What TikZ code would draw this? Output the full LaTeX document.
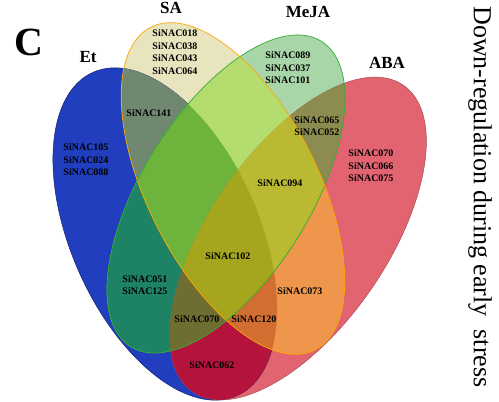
\documentclass[tikz,border=0pt]{standalone}
\usepackage{fontspec}
\setmainfont{Liberation Serif}
\definecolor{etcol}{RGB}{32,62,190}
\definecolor{sacol}{RGB}{232,228,190}
\definecolor{mejacol}{RGB}{168,214,168}
\definecolor{abacol}{RGB}{226,100,112}
\definecolor{etsa}{RGB}{112,135,112}
\definecolor{etmeja}{RGB}{30,130,100}
\definecolor{etaba}{RGB}{180,20,60}
\definecolor{sameja}{RGB}{180,220,110}
\definecolor{saaba}{RGB}{238,150,75}
\definecolor{mejaaba}{RGB}{140,140,80}
\definecolor{etsameja}{RGB}{110,180,60}
\definecolor{etsaaba}{RGB}{210,110,50}
\definecolor{etmejaaba}{RGB}{110,110,50}
\definecolor{samejaaba}{RGB}{185,185,50}
\definecolor{allfour}{RGB}{165,165,30}
\begin{document}
\begin{tikzpicture}[x=1pt,y=1pt,
  lbl/.style={font=\fontsize{10}{12.5}\selectfont\bfseries, align=center, inner sep=0pt},
  ttl/.style={font=\fontsize{17}{19}\selectfont\bfseries, inner sep=0pt}]
\def\Et{(165,168) ellipse [x radius=177, y radius=94, rotate=-66]}
\def\SA{(233,213.5) ellipse [x radius=181, y radius=85, rotate=-63]}
\def\MeJA{(226,208) ellipse [x radius=180, y radius=84, rotate=58]}
\def\ABA{(298,163.5) ellipse [x radius=186, y radius=89, rotate=55.5]}
\useasboundingbox (0,0) rectangle (499,402);

% single sets
\fill[etcol] \Et;
\fill[sacol] \SA;
\fill[mejacol] \MeJA;
\fill[abacol] \ABA;
\draw[line width=0.5pt, etcol!60!black] \Et;
\draw[line width=0.5pt, abacol!75!black] \ABA;

% two sets
\begin{scope} \clip \Et; \fill[etsa] \SA; \fill[etmeja] \MeJA; \fill[etaba] \ABA; \end{scope}
\begin{scope} \clip \SA; \fill[sameja] \MeJA; \fill[saaba] \ABA; \end{scope}
\begin{scope} \clip \MeJA; \fill[mejaaba] \ABA; \end{scope}

% three sets
\begin{scope} \clip \Et; \clip \SA; \fill[etsameja] \MeJA; \fill[etsaaba] \ABA; \end{scope}
\begin{scope} \clip \Et; \clip \MeJA; \fill[etmejaaba] \ABA; \end{scope}
\begin{scope} \clip \SA; \clip \MeJA; \fill[samejaaba] \ABA; \end{scope}

% four sets
\begin{scope} \clip \Et; \clip \SA; \clip \MeJA; \fill[allfour] \ABA; \end{scope}

% outlines
\draw[line width=0.7pt, green!60!black!80] \MeJA;
\draw[line width=0.7pt, orange!70!yellow] \SA;

% set names
\node[font=\fontsize{40}{40}\selectfont\bfseries, inner sep=0pt] (panel) at (29,360) {C};
\node[ttl] (tEt) at (88,345) {Et};
\node[ttl] (tSA) at (171,394) {SA};
\node[ttl] (tMeJA) at (308,390) {MeJA};
\node[ttl] (tABA) at (387,339) {ABA};
\node[font=\fontsize{26}{26}\selectfont, rotate=-90, inner sep=0pt] (side) at (480,205) {Down-regulation during early\ \ stress};

% genes
\node[lbl] (gSA) at (175,350) {SiNAC018\\SiNAC038\\SiNAC043\\SiNAC064};
\node[lbl] (gEtSA) at (149,289) {SiNAC141};
\node[lbl] (gEt) at (86,242) {SiNAC105\\SiNAC024\\SiNAC088};
\node[lbl] (gMeJA) at (288,334) {SiNAC089\\SiNAC037\\SiNAC101};
\node[lbl] (gMeJAABA) at (317,276) {SiNAC065\\SiNAC052};
\node[lbl] (gABA) at (371,236) {SiNAC070\\SiNAC066\\SiNAC075};
\node[lbl] (gSAMeJAABA) at (280,219) {SiNAC094};
\node[lbl] (gAll) at (228,146) {SiNAC102};
\node[lbl] (gEtMeJA) at (145,117) {SiNAC051\\SiNAC125};
\node[lbl] (gSAABA) at (300,111) {SiNAC073};
\node[lbl] (gEtMeJAABA) at (197,83) {SiNAC070};
\node[lbl] (gEtSAABA) at (254,83) {SiNAC120};
\node[lbl] (gEtABA) at (212,37) {SiNAC062};
\end{tikzpicture}
\end{document}
